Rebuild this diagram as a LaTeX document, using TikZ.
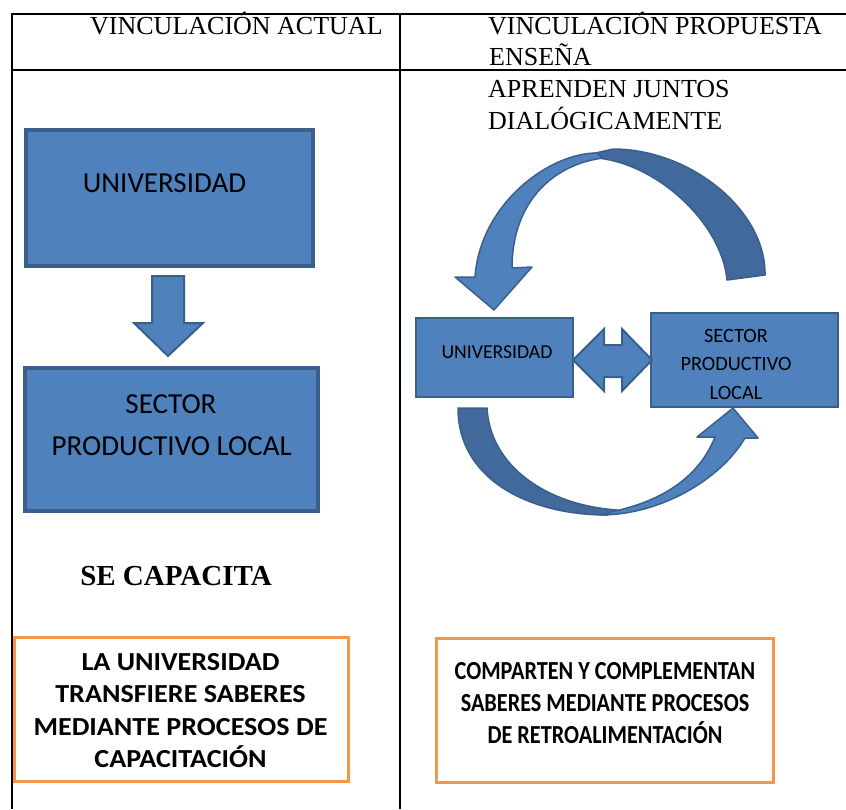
\documentclass[tikz,border=0pt]{standalone}
\usepackage{fontspec}
\setmainfont{Liberation Serif}
\newfontfamily\calfont{Carlito}
\newfontfamily\calwide[FakeStretch=1.08]{Carlito}
\newfontfamily\calnarrow[FakeStretch=0.855]{Carlito}
\definecolor{blueF}{HTML}{4F81BD}
\definecolor{blueB}{HTML}{3A5F8D}
\definecolor{blueK}{HTML}{41699B}
\definecolor{orangeC}{HTML}{F79646}
\begin{document}
\begin{tikzpicture}[x=1pt,y=-1pt,
  bigbox/.style={draw=blueB, fill=blueF, line width=4pt, inner sep=0pt},
  smallbox/.style={draw=blueB, fill=blueF, line width=1.2pt, inner sep=0pt},
  obox/.style={draw=orangeC, line width=3pt, inner sep=0pt},
  blockarrow/.style={fill=blueF, draw=blueB, line width=2pt, line join=miter},
  band/.style={fill=blueF, draw=blueB, line width=1.5pt, line join=round},
  darkband/.style={fill=blueK, draw=blueB, line width=1.5pt, line join=round},
  hdr/.style={anchor=base west, inner sep=0pt, font=\fontsize{26}{30}\selectfont},
  txt/.style={inner sep=0pt}]
\useasboundingbox (0,0) rectangle (846,809);
% table
\draw[line width=2pt] (12,14) -- (846,14);
\draw[line width=2pt] (12,69.5) -- (846,69.5);
\draw[line width=2pt] (12,13) -- (12,809);
\draw[line width=2pt] (400,13) -- (400,809);
% headers
\node[hdr] (h1) at (90,34) {VINCULACIÓN ACTUAL};
\node[hdr] (h2) at (488,34) {VINCULACIÓN PROPUESTA};
\node[hdr] (h3) at (489,65) {ENSEÑA};
\node[hdr] (h4) at (488,97) {APRENDEN JUNTOS};
\node[hdr] (h5) at (488,129) {DIALÓGICAMENTE};
% left column
\node[bigbox, minimum width=287pt, minimum height=136pt] (uA) at (169.5,198) {};
\node[txt, anchor=base, font=\calfont\fontsize{29}{34}\selectfont] (uAt) at (164.5,192.7) {UNIVERSIDAD};
\draw[blockarrow] (152,276) -- (184,276) -- (184,323) -- (203,323) -- (168,356) -- (134,323) -- (152,323) -- cycle;
\node[bigbox, minimum width=293pt, minimum height=143pt] (sA) at (171.5,439.5) {};
\node[txt, anchor=base, font=\calfont\fontsize{29}{34}\selectfont] (sAt1) at (171,413.3) {SECTOR};
\node[txt, anchor=base, font=\calfont\fontsize{29}{34}\selectfont] (sAt2) at (171.7,455) {PRODUCTIVO LOCAL};
\node[txt, anchor=base, font=\bfseries\fontsize{29}{34}\selectfont] (cap) at (176,585) {SE CAPACITA};
% right column
\draw[darkband] (765,275) .. controls (766,210) and (690,149) .. (613,149) -- (587,155) -- (598,158) .. controls (660,165) and (722,225) .. (727,280) -- cycle;
\draw[band] (597,153) .. controls (548,153) and (480,205) .. (475,277) -- (455,277) -- (494,310) -- (532,267) -- (512,268) .. controls (512,205) and (550,165) .. (603,158) -- cycle;
\node[smallbox, minimum width=157pt, minimum height=79pt] (uB) at (494.5,357.5) {};
\node[txt, anchor=base, font=\calfont\fontsize{19.7}{24}\selectfont] (uBt) at (497,358.3) {UNIVERSIDAD};
\node[smallbox, minimum width=187pt, minimum height=94pt] (sB) at (744.5,360) {};
\node[txt, anchor=north, align=center, font=\calfont\fontsize{20.3}{28.3}\selectfont] (sBt) at (736,329.2) {SECTOR\\PRODUCTIVO\\LOCAL};
\draw[blockarrow] (573,360) -- (604,329) -- (604,345) -- (622,345) -- (622,329) -- (652,360) -- (622,391) -- (622,377) -- (604,377) -- (604,391) -- cycle;
\draw[darkband] (458,408) -- (487,408) .. controls (490,465) and (545,505) .. (617,510) -- (607,515) .. controls (530,515) and (458,480) .. (458,408) -- cycle;
\draw[band] (600,515) .. controls (660,515) and (720,480) .. (745,438) -- (758,438) -- (733,408) -- (697,437) -- (715,437) .. controls (700,475) and (665,500) .. (615,511) -- cycle;
% orange boxes
\node[obox, minimum width=334pt, minimum height=144pt] (oA) at (181.5,709.5) {};
\node[txt, anchor=north, align=center, font=\calwide\bfseries\fontsize{26}{32.3}\selectfont] (oAt) at (180.5,653.3) {LA UNIVERSIDAD\\TRANSFIERE SABERES\\MEDIANTE PROCESOS DE\\CAPACITACIÓN};
\node[obox, minimum width=337pt, minimum height=144pt] (oB) at (605,710.5) {};
\node[txt, anchor=north, align=center, font=\calnarrow\bfseries\fontsize{26}{32}\selectfont] (oBt) at (605,662.3) {COMPARTEN Y COMPLEMENTAN\\SABERES MEDIANTE PROCESOS\\DE RETROALIMENTACIÓN};
\end{tikzpicture}
\end{document}
